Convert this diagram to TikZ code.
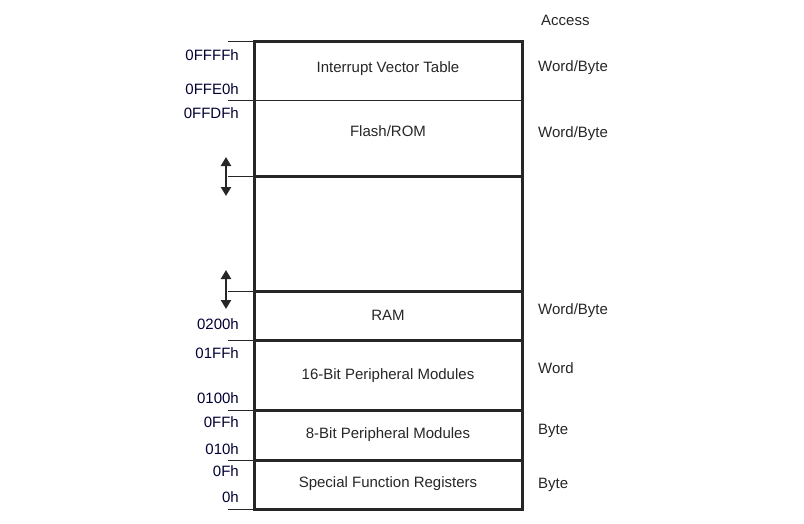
\documentclass[tikz,border=0pt]{standalone}
\usepackage{fontspec}
\setmainfont{Liberation Sans}
\usetikzlibrary{arrows.meta}
\begin{document}
\begin{tikzpicture}[x=1pt,y=-1pt,font=\fontsize{15}{17}\selectfont]
      \tikzstyle{region}=[draw=black!85, line width=3pt, inner sep=0pt]
      \tikzstyle{thin_div}=[draw=black!85, line width=0.8pt]
      \tikzstyle{tick}=[draw=black!85, line width=0.8pt]
      \tikzstyle{addr}=[anchor=east, inner sep=0pt, text=black!80!blue]
      \tikzstyle{access}=[anchor=west, inner sep=0pt, text=black!85]
      \tikzstyle{label_text}=[text=black!85]
      \tikzstyle{double_arrow}=[draw=black!85, line width=2.8pt, {Triangle[width=10pt,length=9pt]}-{Triangle[width=10pt,length=9pt]}]
      \tikzstyle{bound}=[double_arrow]

      \useasboundingbox (0,0) rectangle (804,523);

      % boundary coordinates
      \foreach \name/\y in {a/41, b/100, c/176, d/291, e/340, f/410, g/460, h/509} {
        \coordinate (L-\name) at (254,\y);
        \coordinate (R-\name) at (522,\y);
        \coordinate (T-\name) at (228,\y);
        \draw [tick] (T-\name) -- (L-\name);
      }

      % dividers
      \draw [thin_div] (L-b) -- (R-b);
      \foreach \name in {c, d, e, f, g}
        \draw [region] (L-\name) -- (R-\name);
      \draw [region] (L-a) rectangle (R-h);

      % region names
      \node [label_text] (ivt) at (388,69) {Interrupt Vector Table};
      \node [label_text] (flash) at (388,131) {Flash/ROM};
      \node [label_text] (ram) at (388,315) {RAM};
      \node [label_text] (p16) at (388,376) {16-Bit Peripheral Modules};
      \node [label_text] (p8) at (388,435) {8-Bit Peripheral Modules};
      \node [label_text] (sfr) at (388,484) {Special Function Registers};

      % addresses
      \node [addr] (a0) at (239,55) {0FFFFh};
      \node [addr] (a1) at (239,89) {0FFE0h};
      \node [addr] (a2) at (239,113) {0FFDFh};
      \node [addr] (a3) at (239,324) {0200h};
      \node [addr] (a4) at (239,353) {01FFh};
      \node [addr] (a5) at (239,398) {0100h};
      \node [addr] (a6) at (239,422) {0FFh};
      \node [addr] (a7) at (239,449) {010h};
      \node [addr] (a8) at (239,471) {0Fh};
      \node [addr] (a9) at (239,497) {0h};

      % movable bounds
      \coordinate (up1) at (226,157);
      \coordinate (dn1) at (226,196);
      \coordinate (up2) at (226,270);
      \coordinate (dn2) at (226,309);
      \draw [bound] (up1) -- (dn1);
      \draw [bound] (up2) -- (dn2);

      % access widths
      \node [access] (acc) at (541,20) {Access};
      \node [access] (w0) at (538,68) {Word/Byte};
      \node [access] (w1) at (538,134) {Word/Byte};
      \node [access] (w2) at (538,311) {Word/Byte};
      \node [access] (w3) at (538,368) {Word};
      \node [access] (w4) at (538,431) {Byte};
      \node [access] (w5) at (538,485) {Byte};
\end{tikzpicture}
\end{document}
